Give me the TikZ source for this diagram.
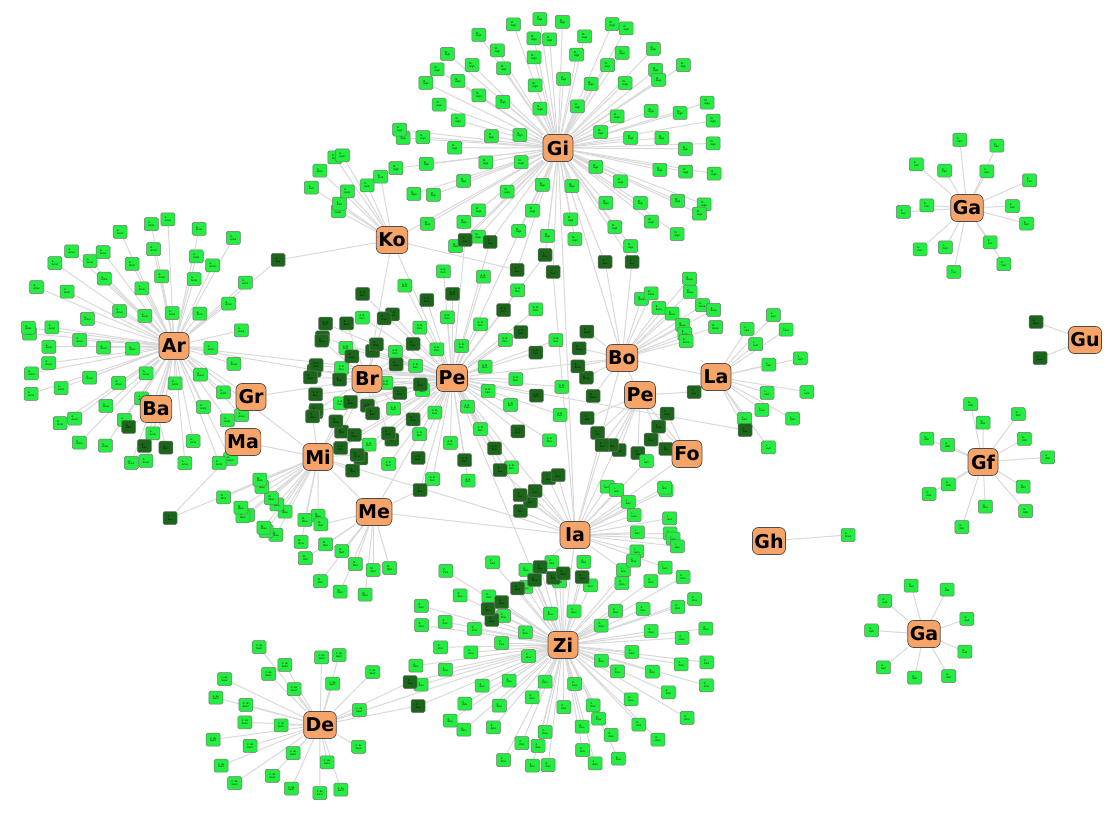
\documentclass[tikz,border=0pt]{standalone}
\usepackage{fontspec}
\setmainfont{DejaVu Sans}
\definecolor{hubfill}{HTML}{F7A468}
\definecolor{leafgreen}{HTML}{24EC40}
\definecolor{darkleaf}{HTML}{1C661C}
\pgfdeclarelayer{paper}
\pgfdeclarelayer{bg}
\pgfdeclarelayer{fg}
\pgfsetlayers{paper,bg,main,fg}
\tikzset{
  hub/.style={draw=black!70, fill=hubfill, rounded corners=6pt, font=\fontsize{19}{20}\selectfont\bfseries,
    minimum height=27pt, minimum width=30pt, inner sep=2pt, line width=0.7pt},
  leaf/.style={draw=black!55, fill=leafgreen, rounded corners=1.5pt, minimum width=14pt, minimum height=13pt,
    inner sep=0pt, font=\fontsize{2.3}{2.7}\selectfont, align=left, line width=0.5pt},
  dleaf/.style={leaf, fill=darkleaf},
  link/.style={draw=black!15, line width=1pt}
}
% rings of satellites: name/hub/radius/count/yscale/from/to/style/label
\def\ringlist{
  gia/gi/42/8/1/0/360/leaf/{M.\\Gigli}, gib/gi/72/13/0.95/10/370/leaf/{M.\\Gigli},
  gic/gi/102/18/0.9/5/365/leaf/{M.\\Gigli}, gid/gi/132/21/0.85/120/420/leaf/{M.\\Gigli},
  gie/gi/160/24/0.8/130/410/leaf/{M.\\Gigli},
  ara/ar/38/8/1/20/380/leaf/{A.\\Arnol}, arb/ar/66/13/1/0/360/leaf/{A.\\Arnol},
  arc/ar/94/15/1/30/330/leaf/{A.\\Arnol}, ard/ar/122/19/1/55/305/leaf/{A.\\Arnol},
  are/ar/150/9/0.85/125/235/leaf/{A.\\Arnol}, baa/ba/36/3/1/60/160/dleaf/{B.\\Bart},
  pea/pe/36/8/1/0/360/leaf/{A. N.\\Pern}, peb/pe/62/12/1/15/375/leaf/{A. N.\\Pern},
  pec/pe/88/15/0.95/0/360/dleaf/{A. N.\\Pern}, ped/pe/115/18/0.9/10/370/leaf/{A. N.\\Pern},
  pee/pe/140/9/0.8/130/230/dleaf/{A. N.\\Pern},
  bra/br/32/7/1/0/360/dleaf/{B.\\Bran}, brb/br/58/10/1/20/380/dleaf/{B.\\Bran},
  mia/mi/62/7/1/90/170/leaf/{M.\\Mine}, mib/mi/100/8/0.9/100/160/leaf/{M.\\Mine},
  mic/mi/42/5/1/250/400/dleaf/{M.\\Mine},
  mea/me/55/6/1/70/170/leaf/{M.\\Merl}, meb/me/85/4/1/95/150/leaf/{M.\\Merl},
  koa/ko/62/5/1/200/260/leaf/{K.\\Korb}, kob/ko/96/4/1/210/250/leaf/{K.\\Korb},
  boa/bo/66/7/1/285/350/leaf/{B.\\Bona}, bob/bo/100/5/1/300/345/leaf/{B.\\Bona},
  boc/bo/44/5/1/110/230/dleaf/{B.\\Bona},
  laa/la/55/6/1/290/430/leaf/{L.\\Lant}, lab/la/88/6/1/300/420/leaf/{L.\\Lant},
  pba/pb/55/6/1/60/170/dleaf/{P.\\Pell}, foa/fo/42/3/1/190/260/dleaf/{F.\\Foss},
  iaa/ia/60/7/1/290/400/leaf/{I.\\Iann}, iab/ia/100/8/1/315/385/leaf/{I.\\Iann},
  iac/ia/58/5/1/195/265/dleaf/{I.\\Iann},
  zia/zi/38/8/1/0/360/leaf/{Z.\\Zino}, zib/zi/65/12/1/15/375/leaf/{Z.\\Zino},
  zic/zi/92/16/0.92/5/365/leaf/{Z.\\Zino}, zid/zi/120/18/0.86/300/600/leaf/{Z.\\Zino},
  zie/zi/148/19/0.82/320/580/leaf/{Z.\\Zino}, zif/zi/80/8/0.9/190/290/dleaf/{Z.\\Zino},
  dea/de/42/7/1/0/360/leaf/{C. de\\Saint}, deb/de/75/12/0.95/60/320/leaf/{C. de\\Saint},
  dec/de/105/6/0.9/130/240/leaf/{C. de\\Saint},
  gaaa/gaa/42/6/1/30/390/leaf/{E.\\Carr}, gaab/gaa/66/9/1/0/360/leaf/{E.\\Carr},
  gfa/gf/44/6/1/0/360/leaf/{G.\\Gfel}, gfb/gf/64/7/1/25/385/leaf/{G.\\Gfel},
  gaba/gab/48/9/1/0/360/leaf/{G.\\Gall}}
% shared dark satellites: name/x/y/hub/hub
\def\sharedlist{s1/278/260/ar/ko, s2/170/518/mi/ma, s3/465/240/gi/pe, s4/490/242/gi/pe,
  s5/545/255/gi/pe, s6/605/262/gi/bo, s7/632/262/gi/bo, s8/745/430/la/pe, s9/540/567/ia/zi,
  s10/410/682/zi/de, s11/418/706/zi/de, s12/520/495/ia/pe, s13/500/470/ia/pe, s14/420/490/me/pe,
  s15/602/445/ia/pb, s16/517/270/gi/ko, s17/553/272/gi/ia, s18/694/392/la/pb}
\begin{document}
\begin{tikzpicture}[x=1pt, y=-1pt]
\begin{pgfonlayer}{paper}
\useasboundingbox[fill=white] (0,0) rectangle (1112,821);
\end{pgfonlayer}
\pgfmathsetseed{11}

% hubs
\begin{pgfonlayer}{fg}
\node[hub] (gi) at (558,148) {Gi};
\node[hub] (ko) at (392,240) {Ko};
\node[hub] (ar) at (174,346) {Ar};
\node[hub] (ba) at (156,409) {Ba};
\node[hub] (gr) at (251,397) {Gr};
\node[hub] (ma) at (243,442) {Ma};
\node[hub] (br) at (367,379) {Br};
\node[hub] (pe) at (452,378) {Pe};
\node[hub] (mi) at (318,457) {Mi};
\node[hub] (me) at (374,512) {Me};
\node[hub] (bo) at (622,358) {Bo};
\node[hub] (pb) at (640,395) {Pe};
\node[hub] (la) at (716,377) {La};
\node[hub] (fo) at (687,454) {Fo};
\node[hub] (ia) at (575,535) {Ia};
\node[hub] (zi) at (563,645) {Zi};
\node[hub] (de) at (320,725) {De};
\node[hub] (gaa) at (967,208) {Ga};
\node[hub] (gu) at (1085,340) {Gu};
\node[hub] (gf) at (983,462) {Gf};
\node[hub] (gh) at (769,541) {Gh};
\node[hub] (gab) at (924,634) {Ga};
\end{pgfonlayer}

% satellites
\foreach \pfx/\hb/\rad/\cnt/\ysc/\angA/\angB/\sty/\lbl in \ringlist {
  \foreach \k in {1,...,\cnt}{
    \pgfmathsetmacro\ang{\angA+(\angB-\angA)*(\k-0.5)/\cnt+6*rand}
    \pgfmathsetmacro\rr{\rad+5*rand}
    \node[\sty] (\pfx\k) at ([shift={({\rr*cos(\ang)},{\rr*\ysc*sin(\ang)})}]\hb.center) {\lbl};
  }
}
\node[dleaf] (gu1) at (1036,322) {G.\\Guen};
\node[dleaf] (gu2) at (1040,358) {G.\\Guen};
\node[leaf] (gh1) at (848,535) {G.\\Ghed};
\foreach \nm/\x/\y/\ha/\hc in \sharedlist {
  \node[dleaf] (\nm) at (\x,\y) {X.\\Xxx};
}

% links
\begin{pgfonlayer}{bg}
\foreach \pfx/\hb/\rad/\cnt/\ysc/\angA/\angB/\sty/\lbl in \ringlist {
  \foreach \k in {1,...,\cnt}{
    \draw[link] (\hb) -- (\pfx\k);
  }
}
\draw[link] (gu) -- (gu1);
\draw[link] (gu) -- (gu2);
\draw[link] (gh) -- (gh1);
\foreach \nm/\x/\y/\ha/\hc in \sharedlist {
  \draw[link] (\ha) -- (\nm);
  \draw[link] (\hc) -- (\nm);
}
\foreach \a/\b in {ko/gi, ko/pe, ar/pe, ar/br, ar/gr, br/pe, mi/br, mi/pe, mi/ia, me/pe, me/mi,
  bo/pe, bo/gi, bo/ia, pb/ia, pb/bo, ia/zi, zi/pe, de/zi, pe/ia, la/bo, fo/ia, fo/pb, ma/mi,
  gr/br, ba/ar, me/ia, gi/pe, gi/ia, ar/mi, ko/br}{
  \draw[link] (\a) -- (\b);
}
\end{pgfonlayer}
\end{tikzpicture}
\end{document}
